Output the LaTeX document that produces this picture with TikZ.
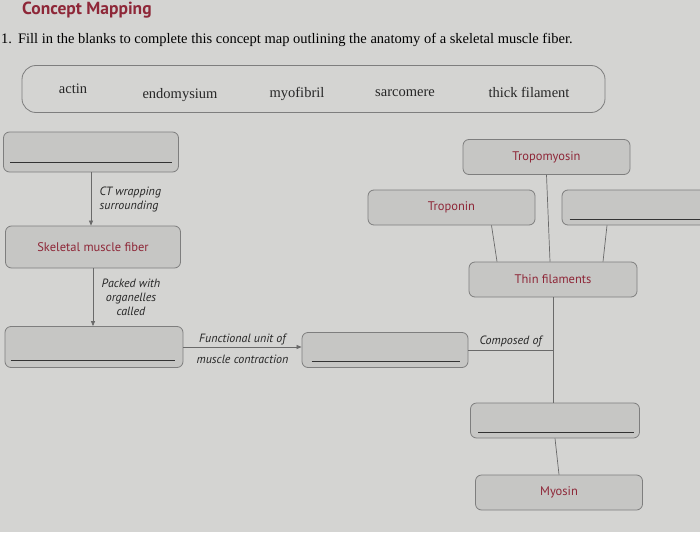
\documentclass[tikz,border=0pt]{standalone}
\usepackage{fontspec}
\setmainfont{Liberation Serif}
\newfontfamily\boxfont{PT Sans}
\usetikzlibrary{arrows.meta}
\definecolor{paper}{HTML}{D4D4D2}
\definecolor{boxfill}{HTML}{C6C6C4}
\definecolor{boxline}{HTML}{7E7E7E}
\definecolor{linkgray}{HTML}{6A6A6A}
\definecolor{maroon}{HTML}{8E2738}
\begin{document}
\begin{tikzpicture}[x=1pt,y=-1pt,
  concept/.style={draw=boxline, fill=boxfill, rounded corners=6pt, line width=0.8pt,
    minimum height=35pt, inner sep=0pt, text=maroon,
    font=\boxfont\fontsize{12.5}{14}\selectfont},
  link/.style={draw=linkgray, line width=0.7pt},
  arrowlink/.style={link, -{Triangle[length=5pt,width=4pt]}},
  linklabel/.style={font=\boxfont\itshape\fontsize{12}{14}\selectfont, inner sep=1.5pt, text=black!85},
  blankline/.style={draw=black!80, line width=0.8pt},
  bankword/.style={font=\fontsize{14.5}{16}\selectfont, text=black!85, inner sep=0pt},
  bankbox/.style={draw=boxline, rounded corners=14pt, line width=0.8pt, inner sep=0pt}
]
\fill[paper] (0,0) rectangle (700,532);
\useasboundingbox (0,0) rectangle (700,532);

% heading
\node[anchor=base west, font=\boxfont\bfseries\fontsize{17.5}{20}\selectfont, text=maroon, inner sep=0pt] (title) at (22,15) {Concept Mapping};
\node[anchor=base west, font=\fontsize{14.5}{17}\selectfont, inner sep=0pt] (instr) at (1,44)
  {1.\hspace{6pt}Fill in the blanks to complete this concept map outlining the anatomy of a skeletal muscle fiber.};

% word bank
\node[bankbox, minimum width=583pt, minimum height=47pt] (bank) at (313.5,89) {};
\node[bankword] (w1) at (73,89) {actin};
\node[bankword] (w2) at (180,95) {endomysium};
\node[bankword] (w3) at (297,94) {myofibril};
\node[bankword] (w4) at (405,93) {sarcomere};
\node[bankword] (w5) at (529,92) {thick filament};

% left column
\node[concept, minimum width=175pt, minimum height=40pt] (endo) at (91,152) {};
\node[concept, minimum width=175pt, minimum height=42pt] (fiber) at (93,247) {Skeletal muscle fiber};
\node[concept, minimum width=178pt, minimum height=41pt] (myo) at (94,347) {};
\node[concept, minimum width=166pt] (sarc) at (385,350) {};

% right column
\node[concept, minimum width=167pt] (tropo) at (546.5,157) {Tropomyosin};
\node[concept, minimum width=167pt] (tropn) at (451.5,207.5) {Troponin};
\node[concept, minimum width=168pt] (act) at (646,207.5) {};
\node[concept, minimum width=168pt] (thin) at (553,279.5) {Thin filaments};
\node[concept, minimum width=169pt] (thick) at (555,420.5) {};
\node[concept, minimum width=167pt] (myosin) at (559,492.5) {Myosin};

% blank lines
\draw[blankline] ([shift={(7,-10)}]endo.south west) -- ([shift={(-7,-10)}]endo.south east);
\draw[blankline] ([shift={(6,-8)}]myo.south west) -- ([shift={(-8,-8)}]myo.south east);
\draw[blankline] ([shift={(10,-7)}]sarc.south west) -- ([shift={(-8,-7)}]sarc.south east);
\draw[blankline] ([shift={(8,-6)}]act.south west) -- ([shift={(0,-6)}]act.south east);
\draw[blankline] ([shift={(8,-6)}]thick.south west) -- ([shift={(-6,-6)}]thick.south east);

% connectors
\draw[arrowlink] (endo.south) -- (endo.south |- fiber.north);
\node[linklabel, anchor=west, align=left] (lab1) at (98,199) {CT wrapping\\surrounding};
\draw[arrowlink] (fiber.south) -- (fiber.south |- myo.north);
\node[linklabel, align=center] (lab2) at (131,297) {Packed with\\organelles\\called};
\draw[arrowlink] (myo.east) -- (myo.east -| sarc.west)
  node[linklabel, midway, above=0pt] (lab3) {Functional unit of}
  node[linklabel, midway, below=6pt] (lab4) {muscle contraction};
\coordinate (join) at (sarc.east -| thin.south);
\draw[link] (sarc.east) -- (join) node[linklabel, midway, above=1pt] (lab5) {Composed of};
\draw[link] (thin.south) -- (thin.south |- thick.north);
\draw[link] (thick.south) -- (myosin.north);
\draw[link] (tropo.south) -- ([xshift=-3pt]thin.north);
\draw[link] ([xshift=40pt]tropn.south) -- ([xshift=-56pt]thin.north);
\draw[link] ([xshift=-39pt]act.south) -- ([xshift=50pt]thin.north);
\end{tikzpicture}
\end{document}
